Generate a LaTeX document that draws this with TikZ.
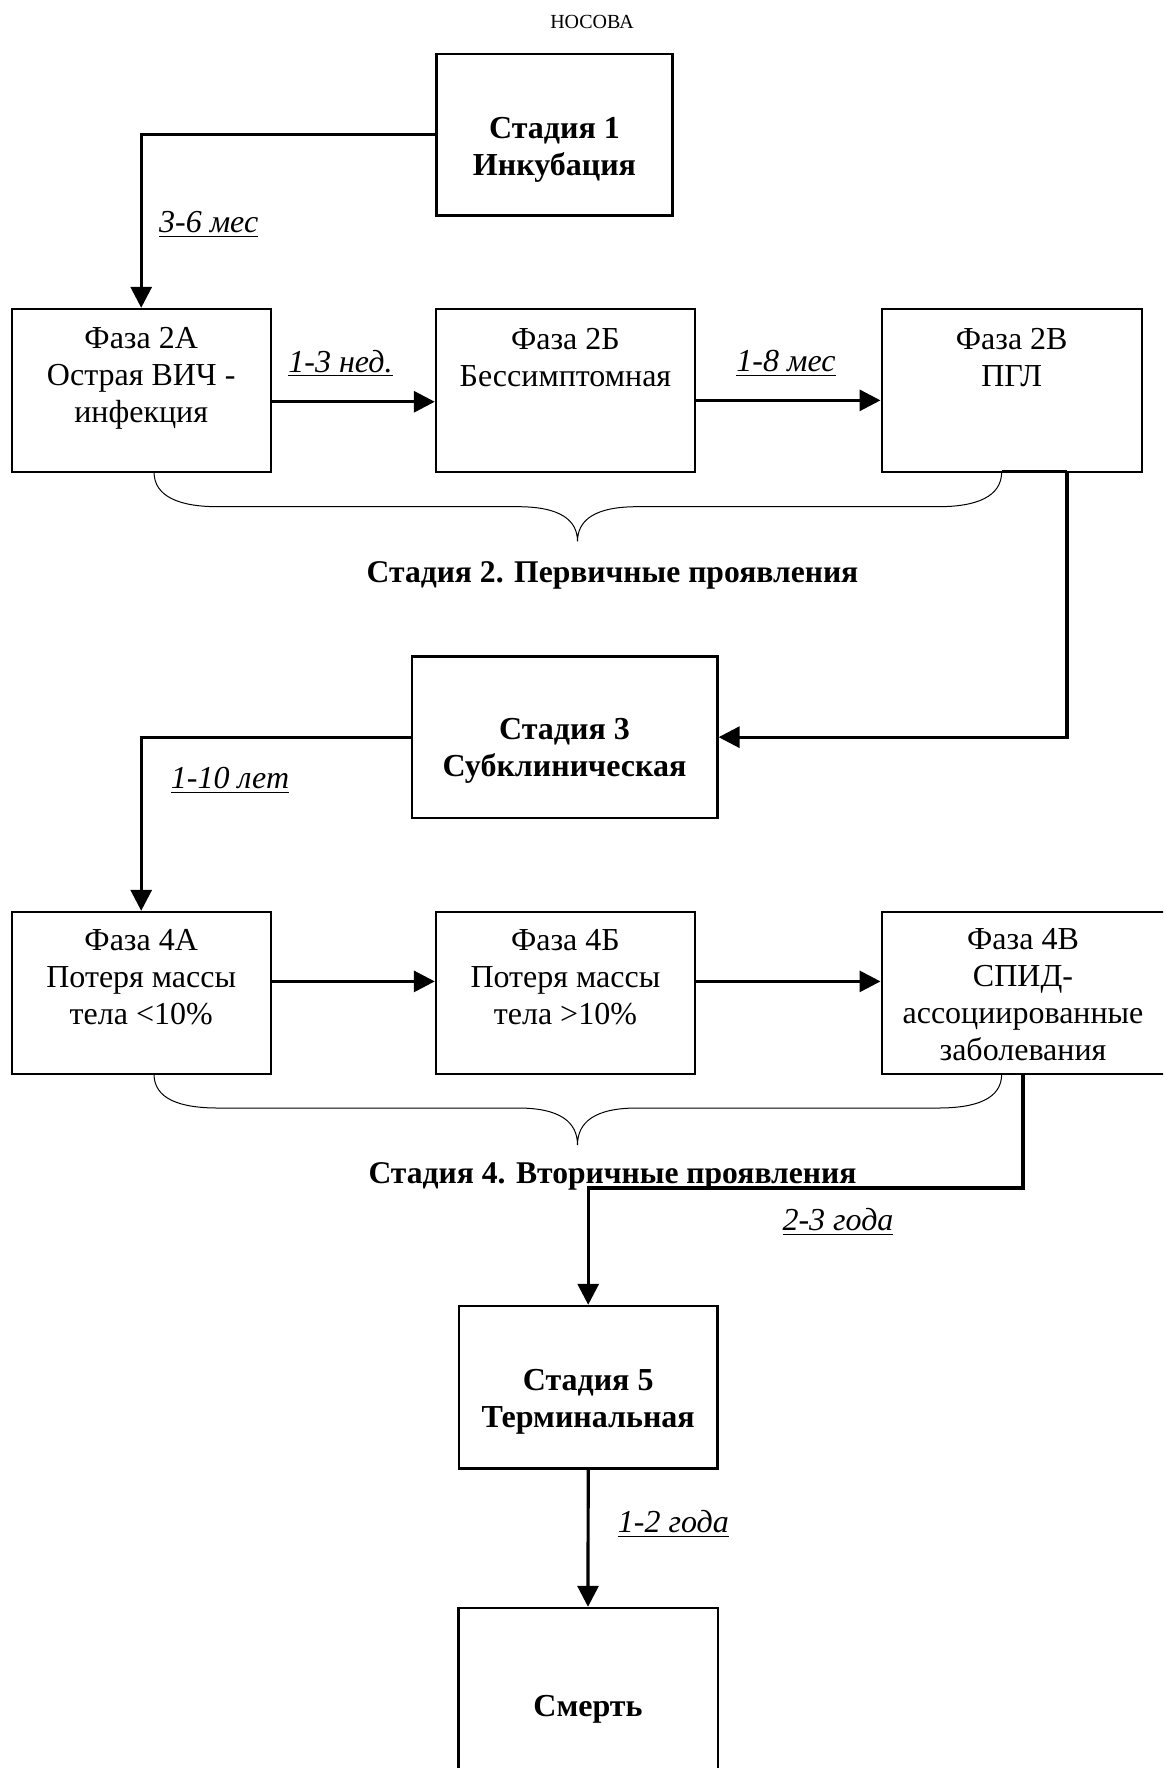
\documentclass[tikz,border=0pt]{standalone}
\usepackage{fontspec}
\setmainfont{Liberation Serif}
\usetikzlibrary{arrows.meta}
\tikzset{
  box/.style={draw=black, line width=1.2pt, rectangle, inner sep=0pt},
  txt/.style={align=center, inner sep=0pt, font=\fontsize{16}{18.5}\selectfont},
  btxt/.style={align=center, inner sep=0pt, font=\fontsize{16}{18.5}\selectfont\bfseries},
  lbl/.style={inner sep=0pt, font=\fontsize{16}{18.5}\selectfont\itshape},
  conn/.style={line width=1.6pt, -{Triangle[length=10.5pt,width=10.5pt]}},
  plain/.style={line width=1.6pt},
  brace/.style={line width=0.5pt}
}
\begin{document}
\begin{tikzpicture}[x=0.5pt,y=-0.5pt]
\useasboundingbox (0,0) rectangle (1163,1768);
\clip (0,0) rectangle (1163,1768);
\fill[white] (0,0) rectangle (1163,1768);

% header
\node[inner sep=0pt, font=\fontsize{10}{12}\selectfont] (hdr) at (592,21.5) {НОСОВА};

% boxes
\node[box, minimum width=117.85pt, minimum height=80.75pt] (s1) at (554.5,134.75) {};
\node[box, minimum width=129.5pt, minimum height=81.35pt] (p2a) at (141.2,390.35) {};
\node[box, minimum width=129.4pt, minimum height=81.35pt] (p2b) at (565.4,390.35) {};
\node[box, minimum width=130pt, minimum height=81.35pt] (p2v) at (1011.7,390.35) {};
\node[box, minimum width=152.85pt, minimum height=80.65pt] (s3) at (564.55,737.15) {};
\node[box, minimum width=129.5pt, minimum height=81pt] (p4a) at (141.2,993) {};
\node[box, minimum width=129.4pt, minimum height=81pt] (p4b) at (565.4,993) {};
\node[box, minimum width=170pt, minimum height=81pt] (p4v) at (1051.7,993) {};
\node[box, minimum width=129.2pt, minimum height=81.3pt] (s5) at (588.2,1387.3) {};
\node[box, minimum width=129.7pt, minimum height=96pt] (dth) at (588,1704) {};

% box texts
\node[btxt] (s1t) at (554.5,149.5) {Стадия 1\\Инкубация};
\node[txt] (p2at) at (141.2,378.5) {Фаза 2А\\Острая ВИЧ -\\инфекция};
\node[txt] (p2bt) at (565.4,358) {Фаза 2Б\\Бессимптомная};
\node[txt] (p2vt) at (1011.7,358) {Фаза 2В\\ПГЛ};
\node[btxt] (s3t) at (564.5,750.8) {Стадия 3\\Субклиническая};
\node[txt] (p4at) at (141.2,976.8) {Фаза 4А\\Потеря массы\\тела <10\%};
\node[txt] (p4bt) at (565.4,976.8) {Фаза 4Б\\Потеря массы\\тела >10\%};
\node[txt] (p4vt) at (1023,994.5) {Фаза 4В\\СПИД-\\ассоциированные\\заболевания};
\node[btxt] (s5t) at (588.2,1401.8) {Стадия 5\\Терминальная};
\node[btxt] (dtht) at (588,1709) {Смерть};

% captions
\node[btxt, font=\fontsize{15.8}{18.5}\selectfont\bfseries] (cap2) at (612.5,575.5) {Стадия 2. Первичные проявления};
\node[btxt, font=\fontsize{15.8}{18.5}\selectfont\bfseries] (cap4) at (612.5,1176.5) {Стадия 4. Вторичные проявления};

% labels
\node[lbl] (l1) at (208.7,224.5) {\underline{3-6 мес}};
\node[lbl] (l2) at (340.5,363.5) {\underline{1-3 нед.}};
\node[lbl] (l3) at (786,363.5) {\underline{1-8 мес}};
\node[lbl] (l4) at (230,780.5) {\underline{1-10 лет}};
\node[lbl] (l5) at (838,1222) {\underline{2-3 года}};
\node[lbl] (l6) at (673.4,1524) {\underline{1-2 года}};

% braces
\coordinate (b1s) at (154,471.7);
\coordinate (b1e) at (1001.7,471.7);
\coordinate (b1tip) at (577.5,541.4);
\draw[brace] (b1s) .. controls (154,497) and (180,506.7) .. (218,506.7)
  -- (518,506.7) .. controls (560,506.7) and (577.5,520) .. (b1tip)
  .. controls (577.5,520) and (595,506.7) .. (637,506.7)
  -- (938,506.7) .. controls (976,506.7) and (1001.7,497) .. (b1e);
\coordinate (b2s) at (154,1074);
\coordinate (b2e) at (1001.7,1074);
\coordinate (b2tip) at (577.5,1145);
\draw[brace] (b2s) .. controls (154,1099) and (180,1108) .. (218,1108)
  -- (518,1108) .. controls (560,1108) and (577.5,1122) .. (b2tip)
  .. controls (577.5,1122) and (595,1108) .. (637,1108)
  -- (938,1108) .. controls (976,1108) and (1001.7,1099) .. (b2e);

% connectors
\draw[conn] (s1.west) -| (p2a.north);
\draw[conn] ([yshift=-5.7pt]p2a.east) -- ([yshift=-5.7pt]p2b.west);
\draw[conn] ([yshift=-5pt]p2b.east) -- ([yshift=-5pt]p2v.west);
\coordinate (c2v) at (1067,471.7);
\draw[plain] (b1e) -- (c2v);
\draw[conn] (c2v) |- (s3.east);
\draw[conn] (s3.west) -| (p4a.north);
\draw[conn] ([yshift=5.8pt]p4a.east) -- ([yshift=5.8pt]p4b.west);
\draw[conn] ([yshift=5.8pt]p4b.east) -- ([yshift=5.8pt]p4v.west);
\coordinate (c4v) at (1023,1188);
\draw[conn] (p4v.south -| c4v) -- (c4v) -| (s5.north);
\draw[conn] (s5.south) -- (dth.north);
\end{tikzpicture}
\end{document}
